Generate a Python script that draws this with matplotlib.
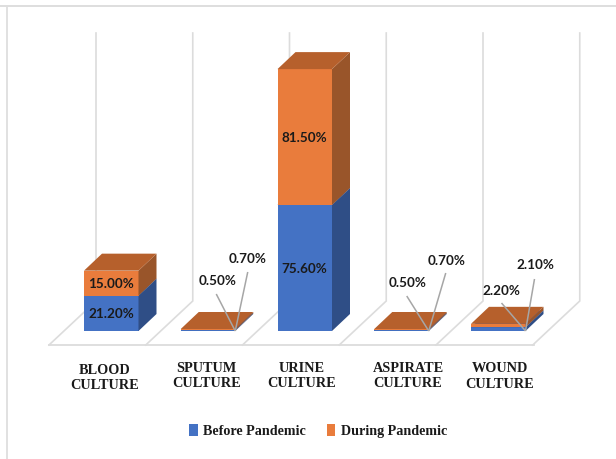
import matplotlib
matplotlib.use("Agg")
import matplotlib.pyplot as plt
from matplotlib.patches import Patch, Polygon

categories = ["BLOOD\nCULTURE", "SPUTUM\nCULTURE", "URINE\nCULTURE", "ASPIRATE\nCULTURE", "WOUND\nCULTURE"]
before_pandemic = [21.20, 0.50, 75.60, 0.50, 2.20]
during_pandemic = [15.00, 0.70, 81.50, 0.70, 2.10]
series_names = ["Before Pandemic", "During Pandemic"]

BLUE, BLUE_SIDE, BLUE_TOP = "#4472C4", "#2F4E86", "#3A62A8"
ORANGE, ORANGE_SIDE, ORANGE_TOP = "#E97C3C", "#99552A", "#B6602C"
GRID = "#DCDCDC"
TEXT = "#1A1A1A"

W, H = 616, 459
X_PER_CAT = 96.75      # pixels between neighbouring categories
Y_PER_UNIT = 1.667     # pixels per percentage point
BASE_PX = 331          # row of the bars' front bottom edge
FIRST_CENTER_PX = 111.25


def px_x(p):
    return (p - FIRST_CENTER_PX) / X_PER_CAT


def px_y(p):
    return (BASE_PX - p) / Y_PER_UNIT


fig = plt.figure(figsize=(W / 100, H / 100), dpi=100, facecolor="white")
ax = fig.add_axes([0, 0, 1, 1])
ax.set_xlim(px_x(0), px_x(W))
ax.set_ylim(px_y(H), px_y(0))
ax.axis("off")

bar_w = 54.5 / X_PER_CAT
dx = 18 / X_PER_CAT
dy = 17 / Y_PER_UNIT

# Picture frame along the top and left
ax.plot([px_x(0), px_x(W)], [px_y(5.5)] * 2, color="#DEDEDE", lw=1.4, zorder=1)
ax.plot([px_x(6.5)] * 2, [px_y(5.5), px_y(H)], color="#DEDEDE", lw=1.3, zorder=1)

# Floor and back-wall gridlines of the oblique chart box
floor_dx = 47 / X_PER_CAT
floor_dy = 44 / Y_PER_UNIT
floor_front = px_y(345)
wall_top = px_y(33)
n = len(categories)
ax.plot([px_x(49), px_x(534)], [floor_front] * 2, color=GRID, lw=1.3, zorder=1)
for k in range(n + 1):
    x0 = px_x(49) + k
    ax.plot([x0, x0 + floor_dx, x0 + floor_dx], [floor_front, floor_front + floor_dy, wall_top],
            color=GRID, lw=1.2, zorder=1, solid_joinstyle="miter")


def draw_box(i, bottom, height, face, side, top, z):
    left = i - bar_w / 2
    right = i + bar_w / 2
    upper = bottom + height
    ax.bar(i, height, width=bar_w, bottom=bottom, color=face, linewidth=0, zorder=z)
    ax.add_patch(Polygon([(right, bottom), (right + dx, bottom + dy), (right + dx, upper + dy), (right, upper)],
                         closed=True, fc=side, ec="none", zorder=z))
    ax.add_patch(Polygon([(left, upper), (left + dx, upper + dy), (right + dx, upper + dy), (right, upper)],
                         closed=True, fc=top, ec="none", zorder=z))


for i, (b, d) in enumerate(zip(before_pandemic, during_pandemic)):
    draw_box(i, 0, b, BLUE, BLUE_SIDE, BLUE_TOP, 3)
    draw_box(i, b, d, ORANGE, ORANGE_SIDE, ORANGE_TOP, 4)

label_font = dict(family="Lato", fontsize=9.7, fontweight="bold", color=TEXT, zorder=7)
label_shift = 1 / Y_PER_UNIT

# Tall bars carry their labels inside the front face
for i in (0, 2):
    ax.text(i, before_pandemic[i] / 2 - label_shift, f"{before_pandemic[i]:.2f}%", ha="center", va="center", **label_font)
    ax.text(i, before_pandemic[i] + during_pandemic[i] / 2 - label_shift, f"{during_pandemic[i]:.2f}%", ha="center", va="center", **label_font)

# Thin bars use leader lines running up from the front corner to their labels:
# each entry is leader-end x, leader-end y, label x, label y, as offsets from the corner
callouts = {
    1: ((-19, 37, -18, 50), (12.5, 59, 12.5, 72)),
    3: ((-22, 35, -21, 48), (17, 58, 18, 70)),
    4: ((-24, 28, -24, 40), (9, 52, 9.5, 66)),
}
for i, (first, second) in callouts.items():
    corner = i + bar_w / 2
    for (end_x, end_y, text_x, text_y), val in zip((first, second), (before_pandemic[i], during_pandemic[i])):
        ax.plot([corner, corner + end_x / X_PER_CAT], [0, end_y / Y_PER_UNIT],
                color="#A6A6A6", lw=1.1, zorder=6, solid_capstyle="butt")
        ax.text(corner + text_x / X_PER_CAT, text_y / Y_PER_UNIT, f"{val:.2f}%",
                ha="center", va="center", **label_font)

# Category names below the floor
name_px = [(104.5, 378), (206.3, 376), (301.7, 376), (408, 376), (499.7, 376.5)]
for label, (xp, yp) in zip(categories, name_px):
    ax.text(px_x(xp), px_y(yp), label, ha="center", va="center", family="Liberation Serif",
            fontweight="bold", fontsize=10.3, color=TEXT, linespacing=1.22)

handles = [Patch(fc=BLUE, ec="none"), Patch(fc=ORANGE, ec="none")]
ax.legend(handles, series_names, ncol=2, loc="center", bbox_to_anchor=(318 / W, 1 - 431 / H),
          frameon=False, handlelength=0.62, handleheight=0.95, handletextpad=0.38, columnspacing=1.45,
          prop=dict(family="Liberation Serif", weight="bold", size=10.2), labelcolor=TEXT)

fig.savefig("out.png", dpi=100)
